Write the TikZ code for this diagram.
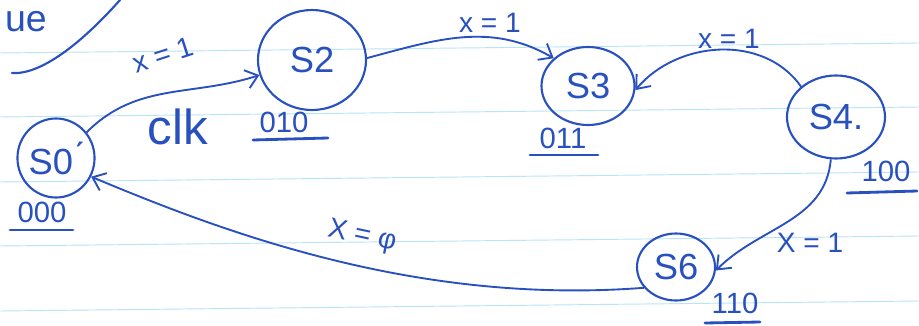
\documentclass[tikz,border=0pt]{standalone}
\usepackage{fontspec}
\setmainfont{Liberation Sans}
\usetikzlibrary{shapes.geometric,arrows.meta}
\definecolor{ink}{RGB}{40,80,190}
\definecolor{ruled}{RGB}{185,228,244}
\begin{document}
\begin{tikzpicture}[x=0.03cm,y=0.03cm,
  state/.style={ellipse,draw=ink,line width=1.8pt,inner sep=0pt,text=ink,font=\fontsize{31}{33}\selectfont},
  lbl/.style={text=ink,inner sep=1pt,font=\fontsize{24}{26}\selectfont},
  code/.style={text=ink,inner sep=1pt,font=\fontsize{25}{27}\selectfont},
  edge/.style={draw=ink,line width=1.6pt,-{Straight Barb[length=10pt,width=16pt,line width=1.6pt]}},
  uline/.style={draw=ink,line width=2.4pt,line cap=round}]
\useasboundingbox (0,0) rectangle (919,325);
\fill[white] (0,0) rectangle (919,325);
% notebook rules
\foreach \y in {14,79,143,208,272} \draw[ruled,line width=0.8pt] (0,\y) -- (919,\y+10);
% top-left fragment
\node[text=ink,font=\fontsize{32}{34}\selectfont,inner sep=0pt] (ue) at (26,303) {ue};
\draw[ink,line width=1.8pt,line cap=round] (12,252) .. controls (40,250) and (80,280) .. (120,325);
% states
\node[state,minimum width=2.04cm,minimum height=2.37cm] (s0) at (56,167) {S0\'{}};
\node[state,minimum width=3.24cm,minimum height=3.0cm] (s2) at (312,265) {S2};
\node[state,minimum width=2.79cm,minimum height=2.34cm] (s3) at (588,239) {S3};
\node[state,minimum width=2.94cm,minimum height=2.49cm] (s4) at (836,208) {S4.};
\node[state,minimum width=2.34cm,minimum height=2.01cm] (s6) at (676,58) {S6};
% codes
\node[code] (c0) at (42,113) {000};
\node[code] (c2) at (284,203) {010};
\node[code] (c3) at (563,187) {011};
\node[code] (c4) at (886,154) {100};
\node[code] (c6) at (735,22) {110};
\draw[uline] (10,95) -- (73,95);
\draw[uline] (253,185) -- (328,187);
\draw[uline] (530,170) -- (598,170);
\draw[uline] (847,132) -- (917,134);
\draw[uline] (705,2) -- (760,3);
% transitions
\draw[edge] (s0.40) to[out=45,in=198] (s2.196);
\draw[edge] (s2.2) to[out=15,in=150] (s3.141);
\draw[edge] (s4.139) to[out=125,in=50] (s3.355);
\draw[edge] (s4.263) to[out=265,in=45] (s6.355);
\draw[edge] (s6.213) .. controls (420,20) and (230,90) .. (s0.332);
% labels
\node[lbl,rotate=18] (t1) at (163,270) {x = 1};
\node[text=ink,font=\fontsize{42}{44}\selectfont,inner sep=0pt] (clk) at (178,198) {clk};
\node[lbl] (t2) at (490,302) {x = 1};
\node[lbl] (t3) at (729,286) {x = 1};
\node[lbl] (t4) at (810,82) {X = 1};
\node[lbl,rotate=-12] (t5) at (362,88) {X = φ};
\end{tikzpicture}
\end{document}
